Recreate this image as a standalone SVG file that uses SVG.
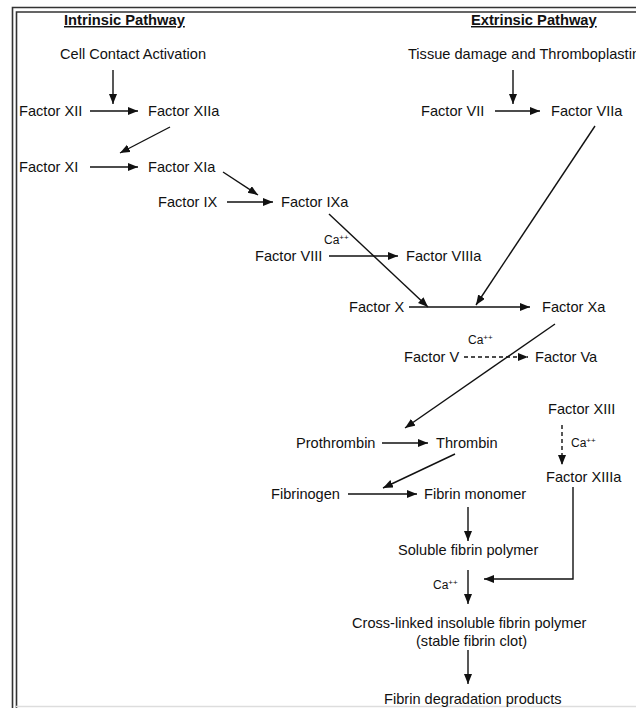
<svg xmlns="http://www.w3.org/2000/svg" width="636" height="708" viewBox="0 0 636 708">
<style>
.t{font-family:"Liberation Sans",Arial,sans-serif;font-size:14.6px;fill:#111}
.h{font-family:"Liberation Sans",Arial,sans-serif;font-size:14.7px;font-weight:bold;fill:#111;text-decoration:underline}
.ca{font-family:"Liberation Sans",Arial,sans-serif;font-size:12px;fill:#111}
.sup{font-size:8px}
.c{stroke:#111;stroke-width:1.4;fill:none;marker-end:url(#ah)}
.d{stroke-dasharray:4,3}
.b{stroke:#333;stroke-width:1.6;fill:none}
</style>
<defs>
<marker id="ah" markerUnits="userSpaceOnUse" markerWidth="11" markerHeight="9" refX="10" refY="4" orient="auto">
<path d="M0,0 L10,4 L0,8 z" fill="#111"/>
</marker>
</defs>
<rect width="636" height="708" fill="#fff"/>
<g id="border">
<path class="b" d="M12.5,708 V7.5 H636"/>
<path class="b" d="M16.5,708 V12 H636"/>
<line x1="16" y1="706.5" x2="636" y2="706.5" stroke="#ddd" stroke-width="1.5"/>
</g>
<g id="titles">
<text class="h" x="64" y="25">Intrinsic Pathway</text>
<text class="h" x="471" y="25">Extrinsic Pathway</text>
</g>
<g id="connectors">
<line class="c" x1="113" y1="70" x2="113" y2="104"/>
<line class="c" x1="90" y1="111" x2="138" y2="111"/>
<line class="c" x1="170" y1="127" x2="120" y2="153"/>
<line class="c" x1="90" y1="167" x2="138" y2="167"/>
<line class="c" x1="223" y1="172" x2="258" y2="195"/>
<line class="c" x1="227" y1="202" x2="273" y2="202"/>
<line class="c" x1="329" y1="214" x2="428" y2="307"/>
<line class="c" x1="329" y1="256" x2="398" y2="256"/>
<line class="c" x1="513" y1="70" x2="513" y2="104"/>
<line class="c" x1="495" y1="111" x2="540" y2="111"/>
<line class="c" x1="595" y1="126" x2="476" y2="305"/>
<line class="c" x1="409" y1="307" x2="530" y2="307"/>
<line class="c" x1="555" y1="324" x2="405" y2="428"/>
<line class="c d" x1="464" y1="357" x2="528" y2="357"/>
<line class="c d" x1="562" y1="425" x2="562" y2="465"/>
<line class="c" x1="382" y1="443" x2="428" y2="443"/>
<line class="c" x1="455" y1="454" x2="383" y2="488"/>
<line class="c" x1="348" y1="494" x2="417" y2="494"/>
<line class="c" x1="468" y1="507" x2="468" y2="541"/>
<line class="c" x1="468" y1="570" x2="468" y2="604"/>
<polyline class="c" points="573,487 573,579 484,579"/>
<line class="c" x1="468" y1="650" x2="468" y2="684"/>
</g>
<g id="cell-contact"><text class="t" x="60" y="59">Cell Contact Activation</text></g>
<g id="tissue-damage"><text class="t" x="408" y="59">Tissue damage and Thromboplastin</text></g>
<g id="f12"><text class="t" x="19" y="116">Factor XII</text></g>
<g id="f12a"><text class="t" x="148" y="116">Factor XIIa</text></g>
<g id="f11"><text class="t" x="19" y="172">Factor XI</text></g>
<g id="f11a"><text class="t" x="148" y="172">Factor XIa</text></g>
<g id="f9"><text class="t" x="158" y="207">Factor IX</text></g>
<g id="f9a"><text class="t" x="281" y="207">Factor IXa</text></g>
<g id="ca1"><text class="ca" x="324" y="244">Ca<tspan class="sup" dy="-4">++</tspan></text></g>
<g id="f8"><text class="t" x="255" y="261">Factor VIII</text></g>
<g id="f8a"><text class="t" x="406" y="261">Factor VIIIa</text></g>
<g id="f7"><text class="t" x="421" y="116">Factor VII</text></g>
<g id="f7a"><text class="t" x="551" y="116">Factor VIIa</text></g>
<g id="f10"><text class="t" x="349" y="312">Factor X</text></g>
<g id="f10a"><text class="t" x="542" y="312">Factor Xa</text></g>
<g id="ca2"><text class="ca" x="468" y="344">Ca<tspan class="sup" dy="-4">++</tspan></text></g>
<g id="f5"><text class="t" x="404" y="362">Factor V</text></g>
<g id="f5a"><text class="t" x="535" y="362">Factor Va</text></g>
<g id="f13"><text class="t" x="548" y="414">Factor XIII</text></g>
<g id="ca3"><text class="ca" x="571" y="447">Ca<tspan class="sup" dy="-4">++</tspan></text></g>
<g id="f13a"><text class="t" x="546" y="482">Factor XIIIa</text></g>
<g id="prothrombin"><text class="t" x="296" y="448">Prothrombin</text></g>
<g id="thrombin"><text class="t" x="436" y="448">Thrombin</text></g>
<g id="fibrinogen"><text class="t" x="271" y="499">Fibrinogen</text></g>
<g id="fibrin-monomer"><text class="t" x="424" y="499">Fibrin monomer</text></g>
<g id="soluble-polymer"><text class="t" x="398" y="555">Soluble fibrin polymer</text></g>
<g id="ca4"><text class="ca" x="433" y="589">Ca<tspan class="sup" dy="-4">++</tspan></text></g>
<g id="cross-linked"><text class="t" x="352" y="628">Cross-linked insoluble fibrin polymer</text><text class="t" x="416" y="646">(stable fibrin clot)</text></g>
<g id="degradation"><text class="t" x="384" y="704">Fibrin degradation products</text></g>
</svg>
